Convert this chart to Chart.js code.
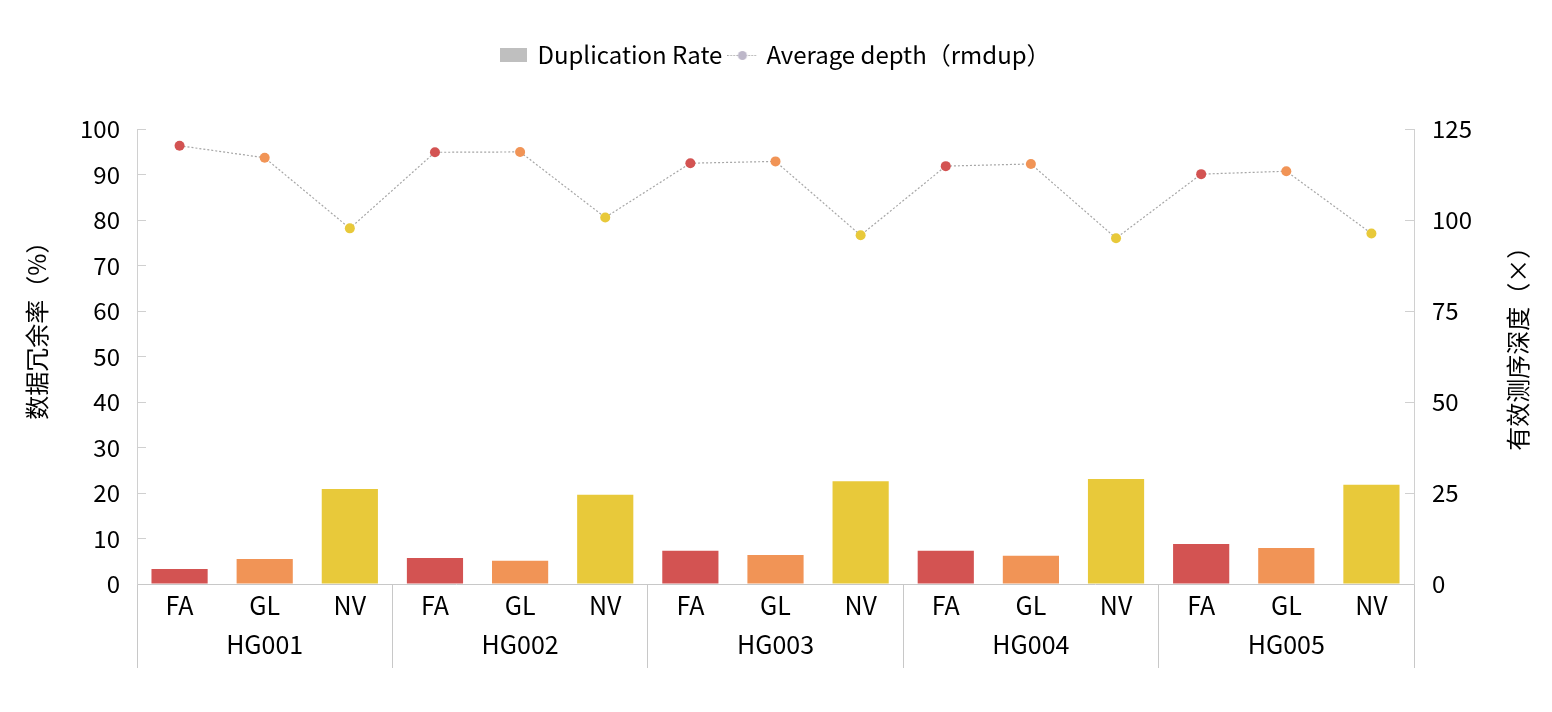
<!DOCTYPE html>
<html>
<head>
<meta charset="utf-8">
<script src="https://cdn.jsdelivr.net/npm/chart.js@4.4.0/dist/chart.umd.min.js"></script>
<style>
  html, body { margin: 0; padding: 0; background: #ffffff; }
  #wrap { width: 1552px; height: 712px; position: relative; }
</style>
</head>
<body>
<div id="wrap"><canvas id="c"></canvas></div>
<script>
const groups = ['HG001', 'HG002', 'HG003', 'HG004', 'HG005'];
const methods = ['FA', 'GL', 'NV'];
const duplicationRate = [3.3, 5.5, 20.9, 5.7, 5.1, 19.6, 7.3, 6.4, 22.6, 7.3, 6.2, 23.1, 8.8, 7.9, 21.8];
const averageDepth = [120.4, 117.1, 97.7, 118.6, 118.7, 100.7, 115.6, 116.1, 95.8, 114.8, 115.4, 95.0, 112.6, 113.4, 96.3];
const leftTicks = { min: 0, max: 100, step: 10 };
const rightTicks = { min: 0, max: 125, step: 25 };
const leftTitle = '数据冗余率（%）';
const rightTitle = '有效测序深度（×）';
const methodColors = { FA: '#d35352', GL: '#f19456', NV: '#e8c93a' };

const FONT = "'Noto Sans CJK SC', 'Noto Sans', sans-serif";

const labels = [];
groups.forEach(g => methods.forEach((m, i) => labels.push(i === 1 ? [m, g] : [m, ''])));
const pointColors = labels.map(l => methodColors[l[0]]);

function makeBox() {
  const c = document.createElement('canvas');
  c.width = 27; c.height = 14;
  const x = c.getContext('2d');
  x.fillStyle = '#bfbfbf';
  x.fillRect(0, 0, 27, 14);
  return c;
}
function makeLineMark() {
  const c = document.createElement('canvas');
  c.width = 30; c.height = 14;
  const x = c.getContext('2d');
  x.strokeStyle = '#a6a6a6';
  x.lineWidth = 1;
  x.setLineDash([1.5, 1.5]);
  x.beginPath(); x.moveTo(0, 7.5); x.lineTo(30, 7.5); x.stroke();
  x.setLineDash([]);
  x.fillStyle = '#bdb7c9';
  x.beginPath(); x.arc(15, 7.5, 4.5, 0, Math.PI * 2); x.fill();
  return c;
}
const boxImg = makeBox();
const lineImg = makeLineMark();

const legendSpacer = {
  id: 'legendSpacer',
  beforeInit(chart) {
    const fit = chart.legend.fit;
    chart.legend.fit = function () {
      fit.call(this);
      this.height = 129 - 35;
    };
  }
};

const axisTitles = {
  id: 'axisTitles',
  afterDraw(chart) {
    const ctx = chart.ctx;
    const a = chart.chartArea;
    const h = a.bottom - a.top;
    ctx.save();
    ctx.font = '24px ' + FONT;
    ctx.fillStyle = '#000000';
    ctx.textAlign = 'center';
    ctx.textBaseline = 'middle';
    ctx.save();
    ctx.translate(chart.scales.y.left + 37, a.top + h * 0.43);
    ctx.rotate(-Math.PI / 2);
    ctx.fillText(leftTitle, 0, 0);
    ctx.restore();
    ctx.save();
    ctx.translate(chart.scales.y1.right - 34, a.top + h * 0.47);
    ctx.rotate(-Math.PI / 2);
    ctx.fillText(rightTitle, 0, 0);
    ctx.restore();
    ctx.restore();
  }
};

new Chart(document.getElementById('c'), {
  data: {
    labels: labels,
    datasets: [
      {
        type: 'line',
        label: 'Average depth（rmdup）',
        data: averageDepth,
        yAxisID: 'y1',
        borderColor: '#a6a6a6',
        borderWidth: 1.2,
        borderDash: [2, 2],
        pointRadius: 5,
        pointHoverRadius: 5,
        pointBackgroundColor: pointColors,
        pointBorderColor: pointColors,
        pointBorderWidth: 0,
        fill: false,
        tension: 0,
        order: 0
      },
      {
        type: 'bar',
        label: 'Duplication Rate',
        data: duplicationRate,
        yAxisID: 'y',
        backgroundColor: pointColors,
        borderWidth: 0,
        categoryPercentage: 1.0,
        barPercentage: 0.66,
        order: 1
      }
    ]
  },
  options: {
    responsive: true,
    maintainAspectRatio: false,
    animation: false,
    layout: { padding: { top: 35, left: 0, right: 0, bottom: 0 } },
    plugins: {
      tooltip: { enabled: false },
      legend: {
        position: 'top',
        align: 'center',
        reverse: true,
        labels: {
          font: { family: FONT, size: 24 },
          color: '#000000',
          padding: 8,
          usePointStyle: true,
          boxWidth: 28,
          boxHeight: 14,
          generateLabels(chart) {
            return chart.data.datasets.map((ds, i) => ({
              text: ds.label,
              datasetIndex: i,
              pointStyle: ds.type === 'bar' ? boxImg : lineImg,
              fillStyle: '#bfbfbf',
              strokeStyle: 'transparent',
              lineWidth: 0,
              fontColor: '#000000',
              hidden: false
            }));
          }
        }
      }
    },
    scales: {
      x: {
        type: 'category',
        offset: true,
        afterFit(s) { s.height = 712 - 584; },
        border: { display: true, color: '#c8c8c8', width: 1 },
        grid: {
          offset: true,
          drawOnChartArea: false,
          drawTicks: true,
          tickLength: 84,
          lineWidth: 1,
          color: ctx => (ctx.index === undefined || ctx.index % 3 === 0) ? '#c8c8c8' : 'rgba(0,0,0,0)'
        },
        ticks: {
          autoSkip: false,
          maxRotation: 0,
          minRotation: 0,
          font: { family: FONT, size: 25, lineHeight: 1.56 },
          color: '#000000',
          padding: -82
        }
      },
      y: {
        type: 'linear',
        position: 'left',
        min: leftTicks.min,
        max: leftTicks.max,
        afterFit(s) { s.width = 137; },
        border: { display: true, color: '#d0d0d0', width: 1 },
        grid: { drawOnChartArea: false, drawTicks: true, tickLength: -9, color: '#d0d0d0' },
        ticks: {
          stepSize: leftTicks.step,
          font: { family: FONT, size: 24 },
          color: '#000000',
          padding: 26
        },
        title: { display: false }
      },
      y1: {
        type: 'linear',
        position: 'right',
        min: rightTicks.min,
        max: rightTicks.max,
        afterFit(s) { s.width = 1552 - 1414; },
        border: { display: true, color: '#d0d0d0', width: 1 },
        grid: { drawOnChartArea: false, drawTicks: true, tickLength: -9, color: '#d0d0d0' },
        ticks: {
          stepSize: rightTicks.step,
          font: { family: FONT, size: 24 },
          color: '#000000',
          padding: 27
        },
        title: { display: false }
      }
    }
  },
  plugins: [legendSpacer, axisTitles]
});
</script>
</body>
</html>
